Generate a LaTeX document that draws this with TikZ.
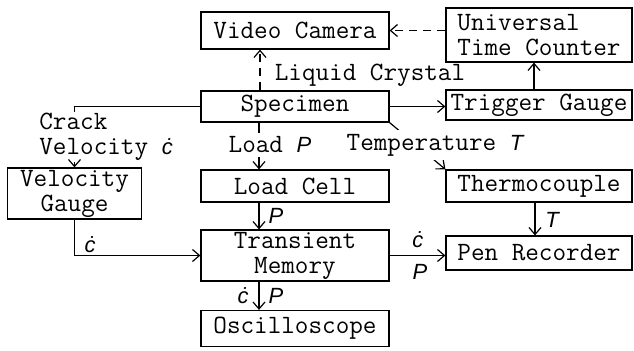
\documentclass[tikz,border=0pt]{standalone}
\usepackage{fontspec}
\newfontfamily\sansfont{Liberation Sans}
\newcommand{\vsym}[1]{{\sansfont\itshape\fontsize{11}{12}\selectfont #1}}
\usetikzlibrary{arrows.meta}

\begin{document}
\begin{tikzpicture}[x=0.5pt,y=-0.5pt]
\tikzset{base/.style={text=black, align=center, draw, line width=0.6pt, inner sep=0pt}, }
\tikzset{testo/.style={font=\ttfamily\fontsize{13.2}{12.5}\selectfont, inner sep=1pt}, }
\tikzset{blocco/.style={testo, base, minimum width=94pt}, }
\tikzset{etichetta/.style={testo, fill=white, inner sep=2pt}, }
\tikzset{filo/.style={line width=0.6pt}, }
\tikzset{linea/.style={filo, -{Straight Barb[length=3.5pt,width=6pt]}}, }
\tikzset{tratteggio/.style={dash pattern=on 4pt off 3pt}, }

\useasboundingbox (0,0) rectangle (634,351);

% colonna centrale
\node[blocco, minimum height=18.5pt] (video) at (295,30.5) {Video Camera};
\node[blocco, minimum height=15.5pt] (spec) at (295,106.5) {Specimen};
\node[blocco, minimum height=16pt] (load) at (295,186) {Load Cell};
\node[blocco, minimum height=25.5pt] (trans) at (295,255.5) {Transient\\Memory};
\node[blocco, minimum height=18pt] (osc) at (295,328.5) {Oscilloscope};

% colonna destra
\node[blocco, minimum width=93pt, minimum height=27pt, align=left] (utc) at (539,35) {Universal\\Time Counter};
\node[blocco, minimum width=93pt, minimum height=15pt] (trig) at (539,105) {Trigger Gauge};
\node[blocco, minimum width=93pt, minimum height=16pt] (thermo) at (539,186) {Thermocouple};
\node[blocco, minimum width=93pt, minimum height=17pt] (pen) at (539,253) {Pen Recorder};

% colonna sinistra
\node[blocco, minimum width=67pt, minimum height=25.5pt] (velg) at (74.5,193.5) {Velocity\\Gauge};
\node[testo, align=left, anchor=west, inner sep=0.5pt] (crack) at (38,137) {Crack\\Velocity \vsym{ċ}};

% collegamenti
\draw[linea, tratteggio] ([xshift=-17.5pt]spec.north) -- ([xshift=-17.5pt]video.south);
\draw[linea, tratteggio] (utc.west |- video.east) -- (video.east);
\draw[linea] ([xshift=-2.5pt]trig.north) -- ([xshift=-2.5pt]utc.south);
\draw[linea] (spec.east) -- (spec.east -| trig.west);
\draw[linea] (spec.south east) -- (thermo.north west);
\draw[filo] (spec.west) -| (crack.north -| velg.north);
\draw[linea] (crack.south -| velg.north) -- (velg.north);
\draw[linea] ([xshift=-18pt]spec.south) -- ([xshift=-18pt]load.north);
\draw[linea] ([xshift=-18pt]load.south) -- ([xshift=-18pt]trans.north);
\draw[linea] (velg.south) |- (trans.west);
\draw[linea] (trans.east) -- (trans.east -| pen.west);
\draw[linea] ([xshift=-2pt]thermo.south) -- ([xshift=-2pt]pen.north);
\draw[linea] ([xshift=-18pt]trans.south) -- ([xshift=-18pt]osc.north);

% etichette
\node[testo] (lc) at (370,75) {Liquid Crystal};
\node[etichetta] (loadp) at (270,145) {Load \vsym{P}};
\node[etichetta] (temp) at (435,145) {Temperature \vsym{T}};
\node[testo] (p1) at (276,216) {\vsym{P}};
\node[testo] (c1) at (90,245) {\vsym{ċ}};
\node[testo] (c2) at (243,296) {\vsym{ċ}};
\node[testo] (p2) at (276,296) {\vsym{P}};
\node[testo] (c3) at (418,240) {\vsym{ċ}};
\node[testo] (p3) at (420,272) {\vsym{P}};
\node[testo] (t1) at (552,220) {\vsym{T}};
\end{tikzpicture}
\end{document}
